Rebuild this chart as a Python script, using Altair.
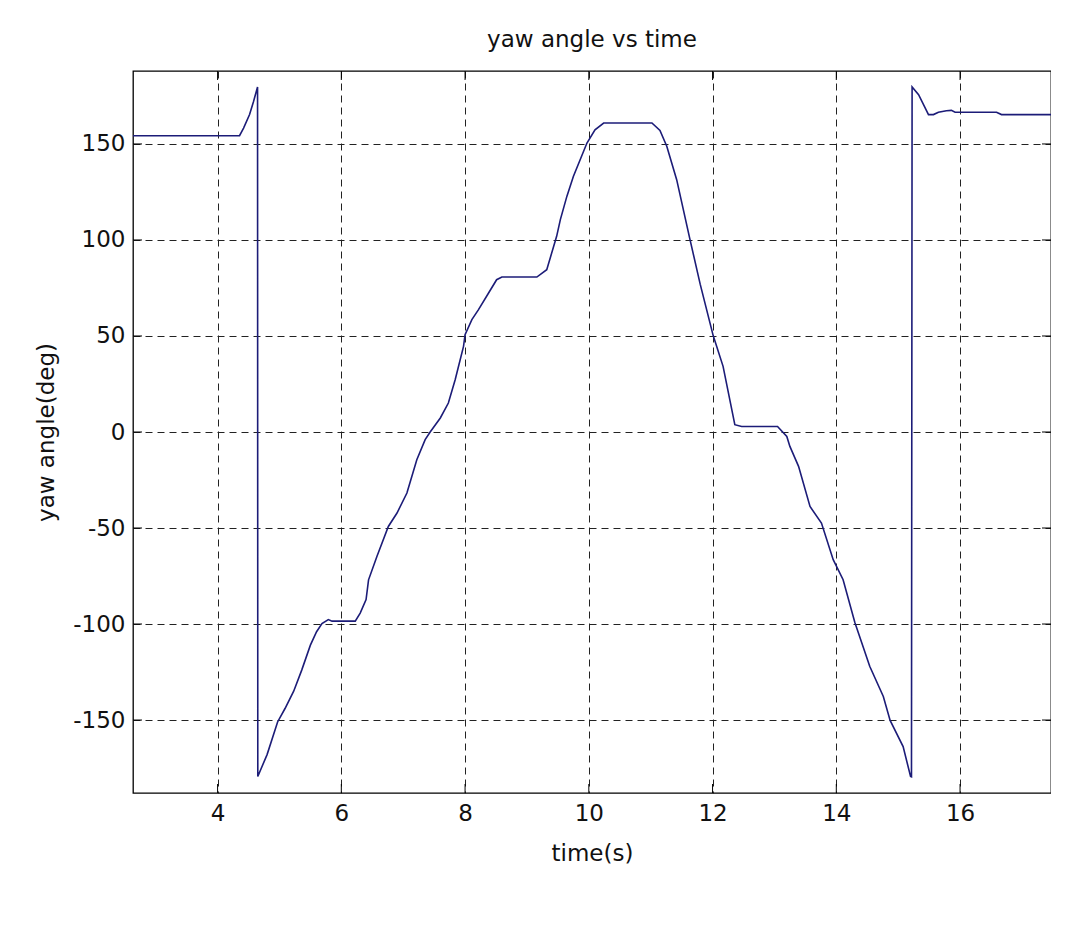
import altair as alt
import pandas as pd

# data
time_s = [2.633, 4.355, 4.42, 4.517, 4.58, 4.646, 4.65, 4.80, 4.97, 5.09, 5.23, 5.36, 5.50, 5.60,
          5.687, 5.79, 5.85, 6.225, 6.305, 6.40, 6.44, 6.575, 6.76, 6.90, 7.06, 7.22, 7.355, 7.436,
          7.60, 7.73, 7.84, 7.975, 8.0, 8.11, 8.217, 8.38, 8.51, 8.595, 9.16, 9.32, 9.40, 9.48, 9.54,
          9.645, 9.75, 9.86, 9.97, 10.10, 10.24, 11.02, 11.15, 11.26, 11.42, 11.63, 11.80, 12.01,
          12.17, 12.36, 12.47, 13.05, 13.20, 13.25, 13.39, 13.575, 13.76, 13.95, 14.11, 14.30, 14.54,
          14.76, 14.87, 15.08, 15.20, 15.215, 15.225, 15.33, 15.49, 15.57, 15.65, 15.78, 15.86, 15.92,
          16.59, 16.67, 17.47]
yaw_deg = [154.3, 154.3, 158.3, 165.3, 172.0, 179.7, -179.4, -168.0, -151.0, -144.0, -135.0, -124.0,
           -111.0, -104.0, -99.8, -97.7, -98.5, -98.5, -94.3, -87.3, -77.0, -64.8, -49.2, -42.2, -31.8,
           -14.4, -4.0, 0.0, 7.3, 15.1, 27.2, 44.6, 50.7, 58.5, 63.7, 72.4, 79.3, 80.7, 80.7, 84.5, 93.2,
           101.9, 110.6, 122.7, 133.1, 141.8, 150.5, 157.4, 160.9, 160.9, 157.0, 148.8, 131.4, 101.0,
           77.0, 50.2, 34.2, 3.8, 2.9, 2.9, -2.3, -7.5, -17.9, -38.8, -47.4, -66.5, -76.9, -99.2, -122.0,
           -137.7, -150.2, -163.8, -179.4, -179.6, 179.7, 175.7, 165.3, 165.3, 166.5, 167.3, 167.5, 166.5,
           166.5, 165.3, 165.3]
x_ticks = [4, 6, 8, 10, 12, 14, 16]
y_ticks = [-150, -100, -50, 0, 50, 100, 150]
x_domain = [2.633, 17.47]
y_domain = [-188, 188]

W, H = 918, 722
FONT = "DejaVu Sans"
FS = 23
LINE_COLOR = "#1c1c78"

df = pd.DataFrame({"t": time_s, "yaw": yaw_deg, "i": list(range(len(time_s)))})
xt = pd.DataFrame({"t": x_ticks})
yt = pd.DataFrame({"yaw": y_ticks})

xscale = alt.Scale(domain=x_domain, nice=False, zero=False)
yscale = alt.Scale(domain=y_domain, nice=False, zero=False)

common = dict(grid=True, domain=False, ticks=False, labelExpr="'' + datum.value",
              labelFont=FONT, labelFontSize=FS, labelColor="#111",
              titleFont=FONT, titleFontSize=FS, titleFontWeight="normal", titleColor="#111",
              gridColor="#222", gridOpacity=1, gridWidth=1, gridDash=[7, 5])
x_axis = alt.Axis(values=x_ticks, title="time(s)", labelPadding=9, titleX=W / 2, titleY=60,
                  titleBaseline="middle", titleAlign="center", **common)
y_axis = alt.Axis(values=y_ticks, title="yaw angle(deg)", labelPadding=8, titleX=-87, titleY=H / 2,
                  titleBaseline="middle", titleAlign="center", titleAngle=270, **common)

line = alt.Chart(df).mark_line(color=LINE_COLOR, strokeWidth=1.6).encode(
    x=alt.X("t:Q", scale=xscale, axis=x_axis),
    y=alt.Y("yaw:Q", scale=yscale, axis=y_axis),
    order="i:Q",
)

tick_len = 9
bottom_ticks = alt.Chart(xt).mark_rule(color="black", strokeWidth=1).encode(
    x=alt.X("t:Q", scale=xscale, axis=x_axis), y=alt.value(H), y2=alt.value(H - tick_len))
top_ticks = alt.Chart(xt).mark_rule(color="black", strokeWidth=1).encode(
    x=alt.X("t:Q", scale=xscale, axis=x_axis), y=alt.value(0), y2=alt.value(tick_len))
left_ticks = alt.Chart(yt).mark_rule(color="black", strokeWidth=1).encode(
    y=alt.Y("yaw:Q", scale=yscale, axis=y_axis), x=alt.value(0), x2=alt.value(tick_len))
right_ticks = alt.Chart(yt).mark_rule(color="black", strokeWidth=1).encode(
    y=alt.Y("yaw:Q", scale=yscale, axis=y_axis), x=alt.value(W), x2=alt.value(W - tick_len))

chart = alt.layer(line, bottom_ticks, top_ticks, left_ticks, right_ticks).properties(
    width=W, height=H,
    background="white",
    title=alt.TitleParams("yaw angle vs time", font=FONT, fontSize=FS, fontWeight="normal",
                          color="#111", anchor="middle", baseline="alphabetic", offset=1),
    autosize=alt.AutoSizeParams(type="none"),
    padding={"left": 125, "top": 63, "right": 0, "bottom": 140},
).configure_view(
    stroke="black", strokeWidth=1.3
)

chart.save("out.html", embed_options={"renderer": "svg", "actions": False})
